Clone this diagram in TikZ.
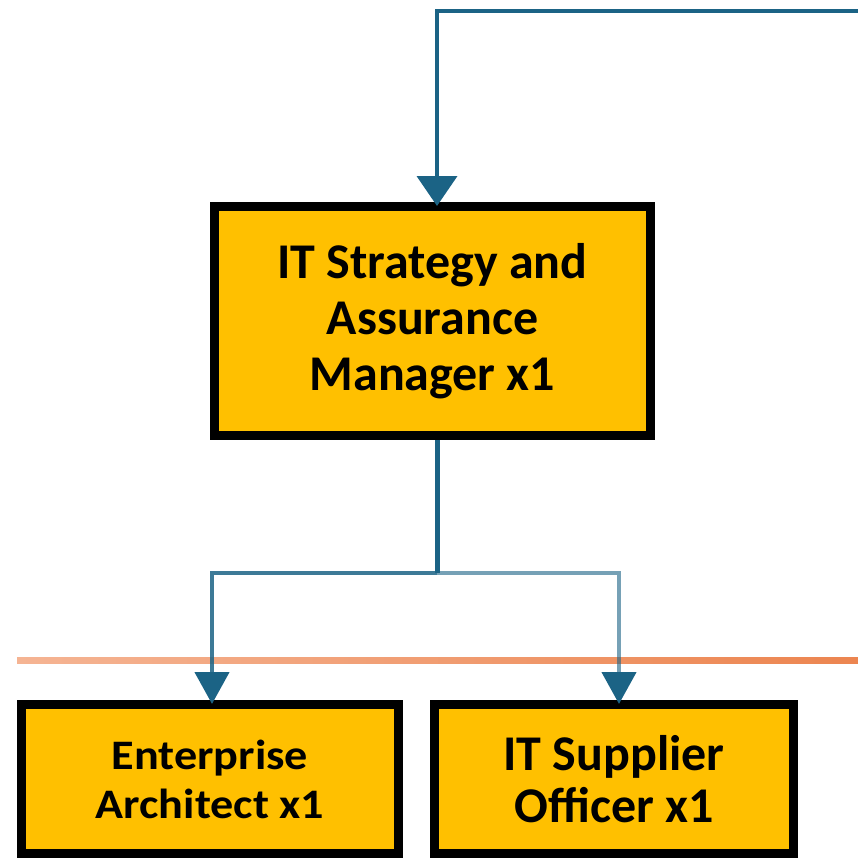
\documentclass[tikz,border=0pt]{standalone}
\usepackage{fontspec}
\setmainfont{Carlito}
\newfontfamily\widefont[FakeStretch=1.1]{Carlito}
\usetikzlibrary{arrows.meta}
\definecolor{boxfill}{HTML}{FFC000}
\definecolor{connc}{HTML}{1B6385}
\definecolor{orgL}{HTML}{F5B493}
\definecolor{orgR}{HTML}{EC8550}
\tikzset{
  rolebox/.style={draw=black, line width=9pt, fill=boxfill, align=center, inner sep=0pt},
  connline/.style={draw=connc, line width=4.5pt},
  bigtip/.style={-{Triangle[width=40pt,length=30pt]}},
  smalltip/.style={-{Triangle[width=34pt,length=32pt]}}
}
\begin{document}
\begin{tikzpicture}[x=1pt,y=-1pt]
\useasboundingbox (0,0) rectangle (858,859);
% divider line
\shade[left color=orgL, right color=orgR] (17,657) rectangle (858,663);
% boxes
\node[rolebox, minimum width=436pt, minimum height=229pt,
      font=\fontsize{50}{56}\selectfont\bfseries] (mgr) at (432.5,321)
      {IT Strategy and\\Assurance\\Manager x1};
\node[rolebox, minimum width=377pt, minimum height=149pt,
      font=\widefont\fontsize{42}{49}\selectfont\bfseries] (ea) at (210,779)
      {Enterprise\\Architect x1};
\node[rolebox, minimum width=359pt, minimum height=149pt,
      font=\fontsize{50}{52}\selectfont\bfseries] (so) at (614,779)
      {IT Supplier\\Officer x1};
% connectors
\coordinate (feed) at (858,11);
\coordinate (j) at (437,573);
\draw[connline, line width=4pt, bigtip] (feed) -| ([xshift=4.5pt,yshift=-4pt]mgr.north);
\draw[connline, line width=5pt] ([xshift=4.5pt]mgr.south) -- (j);
\draw[connline, draw opacity=0.85] (j) -| ([xshift=2pt,yshift=20pt]ea.north);
\draw[connline, smalltip] ([xshift=2pt,yshift=28pt]ea.north) -- ([xshift=2pt,yshift=-4pt]ea.north);
\draw[connline, draw opacity=0.6] (j) -| ([xshift=5pt,yshift=20pt]so.north);
\draw[connline, smalltip] ([xshift=5pt,yshift=28pt]so.north) -- ([xshift=5pt,yshift=-4pt]so.north);
\end{tikzpicture}
\end{document}
